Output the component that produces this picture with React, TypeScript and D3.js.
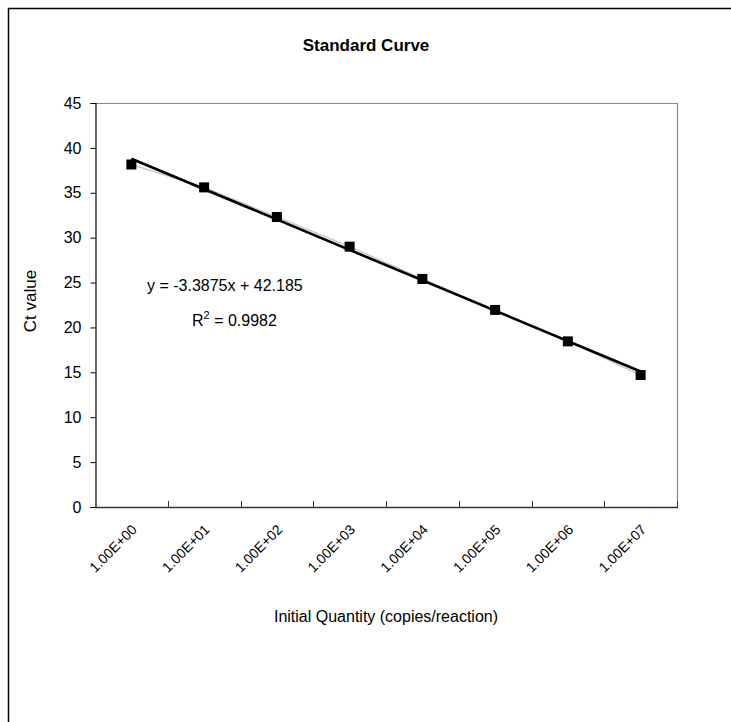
import React, { useEffect, useRef } from "react";
import * as d3 from "d3";

// qPCR standard curve: Ct vs log dilution
const categories = ["1.00E+00", "1.00E+01", "1.00E+02", "1.00E+03", "1.00E+04", "1.00E+05", "1.00E+06", "1.00E+07"];
const ctValues = [38.15, 35.6, 32.3, 29.0, 25.4, 21.95, 18.45, 14.7];
const yTicks = [0, 5, 10, 15, 20, 25, 30, 35, 40, 45];
const slope = -3.3875;
const intercept = 42.185;
const rSquared = "0.9982";

const W = 731;
const H = 722;
const FONT = "'Liberation Sans', Arial, sans-serif";

const App = () => {
  const svgRef = useRef<SVGSVGElement | null>(null);

  useEffect(() => {
    if (!svgRef.current) return;
    const svg = d3.select(svgRef.current);
    svg.selectAll("*").remove();

    const left = 95, right = 677, top = 103, bottom = 507;

    const x = d3.scaleBand().domain(categories).range([left, right]).padding(0);
    const y = d3.scaleLinear().domain([0, 45]).range([bottom, top]);
    const cx = (i: number) => (x(categories[i]) as number) + x.bandwidth() / 2;

    svg.append("rect")
      .attr("x", 0).attr("y", 0).attr("width", W).attr("height", H).attr("fill", "#fff");

    // outer chart border (right/bottom fall outside the picture)
    svg.append("rect")
      .attr("x", 8.5).attr("y", 8.5).attr("width", 760).attr("height", 760)
      .attr("fill", "none").attr("stroke", "#000").attr("stroke-width", 1.5);

    svg.append("text")
      .attr("x", 366).attr("y", 51)
      .attr("text-anchor", "middle").attr("font-family", FONT)
      .attr("font-size", 17).attr("font-weight", "bold")
      .text("Standard Curve");

    // plot area frame: top/right gray
    svg.append("line")
      .attr("x1", left).attr("y1", top + 0.5).attr("x2", right).attr("y2", top + 0.5)
      .attr("stroke", "#888").attr("stroke-width", 1.2);
    svg.append("line")
      .attr("x1", right + 0.5).attr("y1", top).attr("x2", right + 0.5).attr("y2", bottom)
      .attr("stroke", "#888").attr("stroke-width", 1.2);

    // y axis
    const yAxis = svg.append("g").attr("transform", `translate(${left + 0.5},0)`)
      .call(d3.axisLeft(y).tickValues(yTicks).tickSize(5).tickPadding(9).tickFormat(d3.format("d")));
    yAxis.select(".domain").attr("stroke", "#000").attr("stroke-width", 1.2);
    yAxis.selectAll(".tick line").attr("stroke", "#000");
    yAxis.selectAll("text").attr("font-family", FONT).attr("font-size", 16).attr("fill", "#000");

    // x axis with inward ticks at category boundaries
    svg.append("line")
      .attr("x1", left).attr("y1", bottom + 0.5).attr("x2", right + 1).attr("y2", bottom + 0.5)
      .attr("stroke", "#333").attr("stroke-width", 1.6);
    d3.range(1, categories.length + 1).forEach(i => {
      const tx = Math.round(left + i * x.bandwidth()) + 0.5;
      svg.append("line")
        .attr("x1", tx).attr("y1", bottom).attr("x2", tx).attr("y2", bottom - 6)
        .attr("stroke", "#333");
    });
    categories.forEach((c, i) => {
      svg.append("text")
        .attr("transform", `translate(${cx(i) + 3},${bottom + 20}) rotate(-45)`)
        .attr("text-anchor", "end").attr("dy", "0.35em")
        .attr("font-family", FONT).attr("font-size", 14)
        .text(c);
    });

    // axis titles
    svg.append("text")
      .attr("x", 386).attr("y", 622)
      .attr("text-anchor", "middle").attr("font-family", FONT).attr("font-size", 16)
      .text("Initial Quantity (copies/reaction)");
    svg.append("text")
      .attr("transform", `translate(36,${(top + bottom) / 2 - 4}) rotate(-90)`)
      .attr("text-anchor", "middle").attr("font-family", FONT).attr("font-size", 17)
      .text("Ct value");

    // data line (thin gray)
    const line = d3.line<number>().x((d, i) => cx(i)).y(d => y(d));
    svg.append("path")
      .datum(ctValues)
      .attr("d", line)
      .attr("fill", "none").attr("stroke", "#c8c8c8").attr("stroke-width", 1.5);

    // linear trendline
    svg.append("line")
      .attr("x1", cx(0)).attr("y1", y(slope * 1 + intercept))
      .attr("x2", cx(categories.length - 1)).attr("y2", y(slope * categories.length + intercept))
      .attr("stroke", "#000").attr("stroke-width", 2.6);

    // markers
    svg.selectAll(".pt")
      .data(ctValues)
      .enter()
      .append("rect")
      .attr("x", (d, i) => cx(i) - 5)
      .attr("y", d => y(d) - 5)
      .attr("width", 10).attr("height", 10)
      .attr("fill", "#000");

    // equation label
    svg.append("text")
      .attr("x", 147).attr("y", 291)
      .attr("font-family", FONT).attr("font-size", 16)
      .text(`y = ${slope}x + ${intercept}`);
    const r2 = svg.append("text")
      .attr("x", 192).attr("y", 326)
      .attr("font-family", FONT).attr("font-size", 16);
    r2.append("tspan").text("R");
    r2.append("tspan").attr("dy", -7).attr("font-size", 11).text("2");
    r2.append("tspan").attr("dy", 7).text(` = ${rSquared}`);
  }, []);

  return (
    <svg ref={svgRef} width={W} height={H} style={{ display: "block", position: "absolute", left: 0, top: 0 }} />
  );
};

export default App;
